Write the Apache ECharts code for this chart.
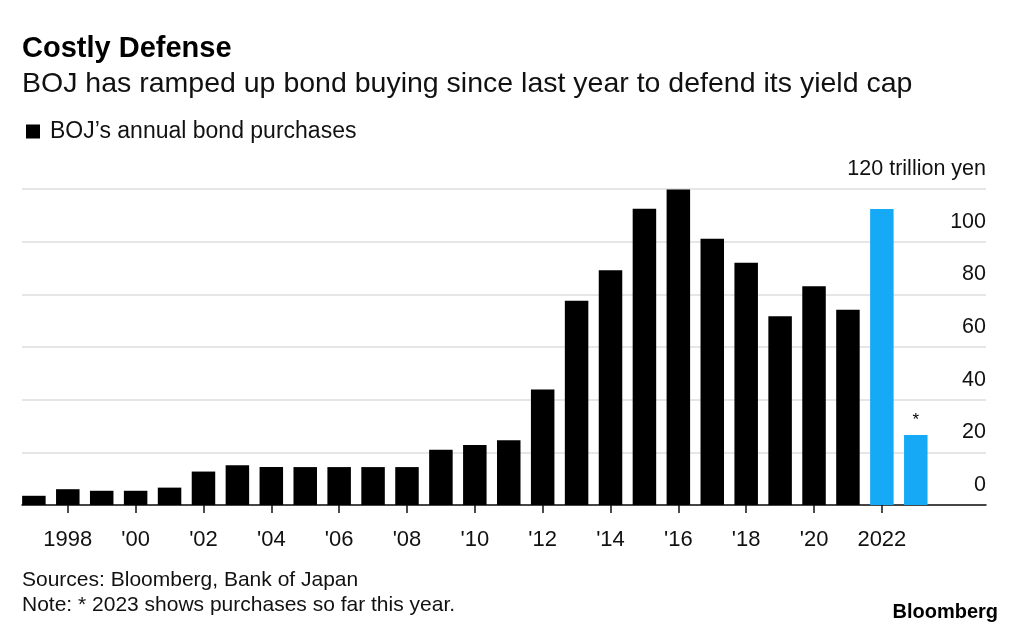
<!DOCTYPE html>
<html>
<head>
<meta charset="utf-8">
<script src="https://cdn.jsdelivr.net/npm/echarts@6/dist/echarts.min.js"></script>
<style>
  html, body { margin: 0; padding: 0; background: #fff; }
  #chart { width: 1024px; height: 634px; }
</style>
</head>
<body>
<div id="chart"></div>
<script>
// BOJ annual bond purchases, trillion yen
var years = [1997, 1998, 1999, 2000, 2001, 2002, 2003, 2004, 2005, 2006, 2007, 2008, 2009,
             2010, 2011, 2012, 2013, 2014, 2015, 2016, 2017, 2018, 2019, 2020, 2021, 2022, 2023];
var purchases = [3.5, 6.0, 5.4, 5.4, 6.6, 12.7, 15.1, 14.4, 14.4, 14.4, 14.4, 14.4, 21.0,
                 22.8, 24.6, 43.9, 77.6, 89.1, 112.5, 119.8, 101.1, 92.0, 71.7, 83.1, 74.1, 112.4, 26.6];
var blueYears = [2022, 2023];
var tickYears = [1998, 2000, 2002, 2004, 2006, 2008, 2010, 2012, 2014, 2016, 2018, 2020, 2022];

var FONT = '"Liberation Sans", Arial, sans-serif';
var BLUE = '#16aaf6';

var barData = [];
for (var i = 0; i < years.length; i++) {
    var item = { value: [years[i], purchases[i]] };
    if (blueYears.indexOf(years[i]) >= 0) {
        item.itemStyle = { color: BLUE };
    }
    if (years[i] === 2023) {
        // the asterisk over the year-to-date bar
        item.label = { show: true, position: 'top', formatter: '*', distance: 6,
                       color: '#000', fontSize: 17, fontFamily: FONT };
    }
    barData.push(item);
}

var myChart = echarts.init(document.getElementById('chart'));
var option = {
    animation: false,
    backgroundColor: '#fff',
    textStyle: { fontFamily: FONT },
    title: [
        { text: 'Costly Defense', left: 22, top: 34, padding: 0,
          textStyle: { fontSize: 29, fontWeight: 'bold', color: '#000', fontFamily: FONT } },
        { text: 'BOJ has ramped up bond buying since last year to defend its yield cap', left: 22, top: 70, padding: 0,
          textStyle: { fontSize: 28.5, fontWeight: 'normal', color: '#111', fontFamily: FONT } }
    ],
    legend: {
        left: 26, top: 120, padding: 0,
        icon: 'rect', itemWidth: 14, itemHeight: 14,
        textStyle: { fontSize: 23, color: '#111', fontFamily: FONT, padding: [0, 0, 0, 5] },
        data: ['BOJ\u2019s annual bond purchases']
    },
    grid: { left: 22, right: 38, top: 189, bottom: 129, containLabel: false, outerBoundsMode: 'none' },
    xAxis: {
        type: 'value',
        min: 1996.65,
        max: 2025.07,
        splitLine: { show: false },
        axisLine: { show: true, lineStyle: { color: '#111', width: 1.5 } },
        axisTick: { show: true, length: 8, lineStyle: { color: '#111', width: 1.5 }, customValues: tickYears },
        axisLabel: {
            customValues: tickYears,
            margin: 24, fontSize: 22, color: '#111', fontFamily: FONT,
            formatter: function (v) {
                if (v === 1998 || v === 2022) return String(v);
                return "'" + String(v).slice(2);
            }
        }
    },
    yAxis: {
        type: 'value',
        position: 'right',
        min: 0, max: 120, interval: 20,
        axisLine: { show: false },
        axisTick: { show: false },
        splitLine: { lineStyle: { color: '#dedede', width: 1.5 } },
        axisLabel: {
            inside: true, margin: 0,
            verticalAlign: 'bottom', padding: [0, 0, 9, 0],
            fontSize: 21.5, color: '#111', fontFamily: FONT,
            formatter: function (v) { return v === 120 ? '120 trillion yen' : String(v); }
        }
    },
    series: [{
        name: 'BOJ\u2019s annual bond purchases',
        type: 'bar',
        barWidth: 23.5,
        itemStyle: { color: '#000' },
        data: barData
    }],
    graphic: [
        { type: 'text', left: 22, top: 570,
          style: { text: 'Sources: Bloomberg, Bank of Japan', fontSize: 21, fill: '#111', fontFamily: FONT } },
        { type: 'text', left: 22, top: 595,
          style: { text: 'Note: * 2023 shows purchases so far this year.', fontSize: 21, fill: '#111', fontFamily: FONT } },
        { type: 'text', right: 26, top: 602,
          style: { text: 'Bloomberg', fontSize: 20, fontWeight: 'bold', fill: '#000', fontFamily: FONT } }
    ]
};
myChart.setOption(option);
</script>
</body>
</html>
